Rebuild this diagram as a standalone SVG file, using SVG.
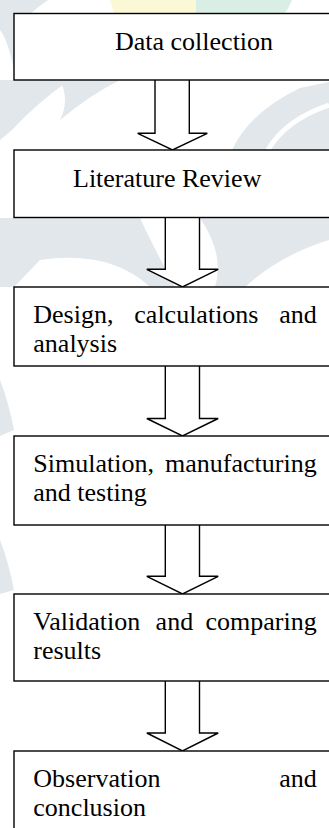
<svg xmlns="http://www.w3.org/2000/svg" width="329" height="828" viewBox="0 0 329 828">
  <style>
    .box { fill: #ffffff; stroke: #000000; stroke-width: 1.4; }
    .arrow { fill: #ffffff; stroke: #000000; stroke-width: 1.4; stroke-linejoin: miter; }
    .lbl { font-family: "Liberation Serif", "Times New Roman", serif; font-size: 26px; fill: #000000; }
    .wm { fill: #e1e7eb; stroke: none; }
  </style>
  <rect x="0" y="0" width="329" height="828" fill="#ffffff"/>
  <g id="watermark">
    <path d="M110,0 L196,0 L196,14 L114,14 Z" fill="#fbf8d6"/>
    <path d="M196,0 L292,0 Q289,8 284,14 L196,14 Z" fill="#d9efe6"/>
    <path class="wm" d="M0,0 L48,0 Q30,12 14,30 L14,70 Q8,40 0,30 Z"/>
    <path class="wm" d="M0,80 L70,80 Q40,100 12,130 L0,140 Z"/>
    <path class="wm" d="M60,80 L120,80 Q90,95 60,120 Q70,100 60,80 Z"/>
    <path class="wm" d="M232,150 Q250,112 300,88 L329,82 L329,150 Z"/>
    <path d="M268,150 Q285,120 329,105" fill="none" stroke="#ffffff" stroke-width="5"/>
    <path class="wm" d="M0,218 L140,218 Q150,240 175,287 L150,287 Q110,250 40,260 L14,287 L0,287 Z"/>
    <path class="wm" d="M200,218 L329,218 L329,240 Q280,255 245,287 L215,287 Q225,255 200,218 Z"/>
    <path class="wm" d="M0,380 Q8,400 14,430 L0,436 Z"/>
    <path class="wm" d="M0,540 Q8,560 14,590 L0,594 Z"/>
  </g>
  <g id="connectors">
    <path class="arrow" d="M155,80 L155,133.3 L137.7,133.3 L172.5,150 L207.3,133.3 L189.3,133.3 L189.3,80"/>
    <path class="arrow" d="M165.3,217.5 L165.3,269.3 L146.8,269.3 L182.5,287 L218.2,269.3 L199.5,269.3 L199.5,217.5"/>
    <path class="arrow" d="M165.3,366 L165.3,418.5 L146.8,418.5 L182.5,436 L218.2,418.5 L199.5,418.5 L199.5,366"/>
    <path class="arrow" d="M165.3,525 L165.3,576.3 L146.8,576.3 L182.5,594 L218.2,576.3 L199.5,576.3 L199.5,525"/>
    <path class="arrow" d="M165.3,681 L165.3,733 L146.8,733 L182.5,751 L218.2,733 L199.5,733 L199.5,681"/>
  </g>
  <g id="node1">
    <rect class="box" x="14" y="13.5" width="330" height="66.5"/>
    <text class="lbl" x="115" y="50">Data collection</text>
  </g>
  <g id="node2">
    <rect class="box" x="14" y="150" width="330" height="67.5"/>
    <text class="lbl" x="73" y="187">Literature Review</text>
  </g>
  <g id="node3">
    <rect class="box" x="14" y="287" width="330" height="79"/>
    <text class="lbl"><tspan x="33.3" y="323">Design,</tspan><tspan x="134.3" y="323">calculations</tspan><tspan x="316.7" y="323" text-anchor="end">and</tspan><tspan x="33.3" y="352">analysis</tspan></text>
  </g>
  <g id="node4">
    <rect class="box" x="14" y="436" width="330" height="89"/>
    <text class="lbl"><tspan x="33.3" y="472">Simulation,</tspan><tspan x="316.7" y="472" text-anchor="end">manufacturing</tspan><tspan x="33.3" y="501">and testing</tspan></text>
  </g>
  <g id="node5">
    <rect class="box" x="14" y="594" width="330" height="87"/>
    <text class="lbl"><tspan x="33.3" y="630">Validation</tspan><tspan x="155.6" y="630">and</tspan><tspan x="316.7" y="630" text-anchor="end">comparing</tspan><tspan x="33.3" y="659">results</tspan></text>
  </g>
  <g id="node6">
    <rect class="box" x="14" y="751" width="330" height="90"/>
    <text class="lbl"><tspan x="33.3" y="787">Observation</tspan><tspan x="316.7" y="787" text-anchor="end">and</tspan><tspan x="33.3" y="816">conclusion</tspan></text>
  </g>
</svg>
